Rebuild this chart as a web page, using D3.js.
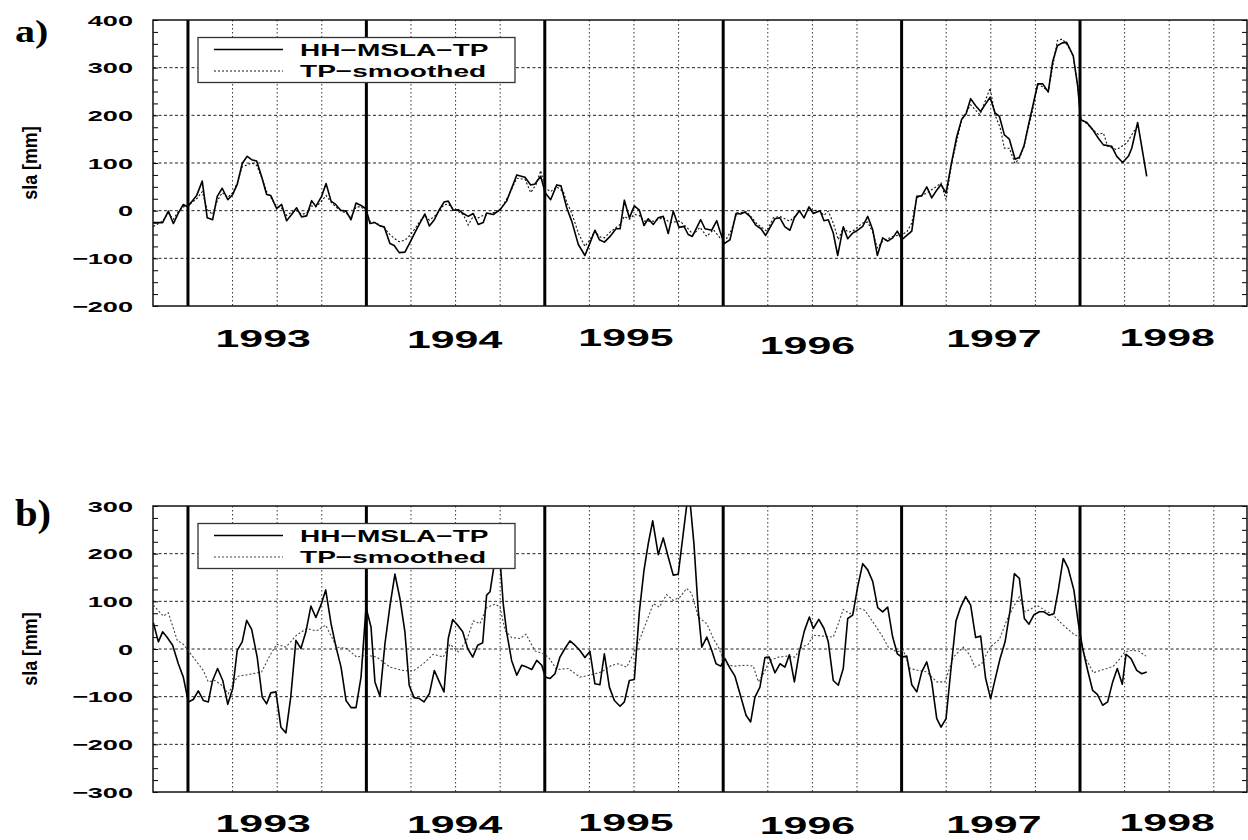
<!DOCTYPE html>
<html>
<head>
<meta charset="utf-8">
<script src="https://cdn.jsdelivr.net/npm/d3@7"></script>
<style>
  html, body { margin: 0; padding: 0; background: #fff; }
  svg { display: block; }
</style>
</head>
<body>
<div id="chart"></div>
<script>
// Sea level anomaly time series, [decimal year, sla in mm]

// panel a) HH-MSLA-TP
const hhA = [
  [1992.806,-25],[1992.858,-25],[1992.890,-1],[1992.918,-27],[1992.946,-5],[1992.974,13],[1992.998,8],
  [1993.049,32],[1993.080,62],[1993.108,-15],[1993.138,-19],[1993.164,30],[1993.192,47],[1993.223,23],
  [1993.251,34],[1993.276,55],[1993.304,99],[1993.332,114],[1993.357,107],[1993.385,104],[1993.413,71],
  [1993.441,34],[1993.464,32],[1993.497,4],[1993.525,13],[1993.553,-21],[1993.581,-8],[1993.609,6],
  [1993.637,-13],[1993.665,-11],[1993.693,21],[1993.717,9],[1993.749,30],[1993.774,57],[1993.802,20],
  [1993.828,13],[1993.856,1],[1993.886,-1],[1993.914,-19],[1993.942,16],[1993.970,11],[1993.998,4],
  [1994.020,-27],[1994.048,-25],[1994.076,-32],[1994.100,-34],[1994.132,-69],[1994.156,-73],[1994.184,-88],
  [1994.216,-87],[1994.244,-67],[1994.272,-46],[1994.300,-26],[1994.328,-7],[1994.353,-32],[1994.381,-19],
  [1994.409,2],[1994.435,18],[1994.459,20],[1994.487,1],[1994.515,2],[1994.543,-6],[1994.571,-12],
  [1994.599,-6],[1994.627,-29],[1994.655,-25],[1994.674,-5],[1994.711,-8],[1994.749,2],[1994.786,20],
  [1994.843,75],[1994.889,70],[1994.921,54],[1994.945,56],[1994.977,72],[1995.003,37],[1995.033,23],
  [1995.067,54],[1995.091,52],[1995.123,6],[1995.151,-22],[1995.188,-71],[1995.225,-94],[1995.253,-68],
  [1995.281,-41],[1995.306,-61],[1995.334,-66],[1995.366,-54],[1995.399,-38],[1995.422,-38],[1995.446,22],
  [1995.474,-15],[1995.502,10],[1995.530,1],[1995.556,-31],[1995.580,-17],[1995.608,-29],[1995.636,-15],
  [1995.664,-12],[1995.692,-48],[1995.720,-1],[1995.752,-35],[1995.780,-33],[1995.804,-50],[1995.827,-54],
  [1995.851,-36],[1995.874,-19],[1995.898,-38],[1995.936,-41],[1995.964,-21],[1995.982,-43],[1996.006,-69],
  [1996.038,-61],[1996.072,-6],[1996.098,-7],[1996.122,-3],[1996.150,-12],[1996.184,-31],[1996.212,-38],
  [1996.238,-52],[1996.266,-33],[1996.290,-17],[1996.318,-15],[1996.346,-34],[1996.374,-41],[1996.399,-15],
  [1996.427,0],[1996.453,-15],[1996.481,8],[1996.505,-6],[1996.543,0],[1996.565,-21],[1996.589,-19],
  [1996.617,-47],[1996.642,-94],[1996.673,-34],[1996.698,-59],[1996.726,-47],[1996.754,-41],[1996.782,-33],
  [1996.810,-12],[1996.838,-40],[1996.864,-94],[1996.894,-57],[1996.922,-64],[1996.950,-57],[1996.976,-43],
  [1997.001,-61],[1997.029,-52],[1997.057,-43],[1997.085,30],[1997.113,31],[1997.141,50],[1997.169,27],
  [1997.197,43],[1997.221,55],[1997.249,37],[1997.281,103],[1997.309,155],[1997.337,192],[1997.361,203],
  [1997.387,235],[1997.415,220],[1997.443,208],[1997.471,224],[1997.496,238],[1997.524,205],[1997.548,198],
  [1997.576,159],[1997.604,150],[1997.636,108],[1997.660,112],[1997.686,136],[1997.710,178],[1997.735,219],
  [1997.763,266],[1997.791,266],[1997.822,249],[1997.847,313],[1997.873,346],[1997.901,352],[1997.925,353],
  [1997.962,325],[1997.987,261],[1998.004,191],[1998.038,185],[1998.071,170],[1998.103,152],[1998.131,138],
  [1998.178,135],[1998.206,114],[1998.239,101],[1998.271,114],[1998.290,131],[1998.323,185],[1998.374,72]
];

// panel a) TP-smoothed
const tpA = [
  [1992.806,-33],[1992.858,-22],[1992.890,-5],[1992.918,-18],[1992.946,-2],[1992.974,8],[1992.998,10],
  [1993.049,25],[1993.080,40],[1993.108,2],[1993.138,-8],[1993.164,20],[1993.192,38],[1993.223,28],
  [1993.251,38],[1993.276,58],[1993.304,92],[1993.332,96],[1993.357,100],[1993.385,95],[1993.413,70],
  [1993.441,40],[1993.464,28],[1993.497,8],[1993.525,5],[1993.553,-10],[1993.581,-3],[1993.609,0],
  [1993.637,-8],[1993.665,-5],[1993.693,10],[1993.717,8],[1993.749,20],[1993.774,32],[1993.802,18],
  [1993.828,8],[1993.856,0],[1993.886,-5],[1993.914,-15],[1993.942,8],[1993.970,8],[1993.998,0],
  [1994.020,-22],[1994.048,-25],[1994.076,-30],[1994.100,-36],[1994.132,-50],[1994.156,-58],[1994.184,-65],
  [1994.216,-62],[1994.244,-52],[1994.272,-38],[1994.300,-22],[1994.328,-10],[1994.353,-20],[1994.381,-12],
  [1994.409,0],[1994.435,12],[1994.459,14],[1994.487,3],[1994.515,-2],[1994.543,-8],[1994.571,-30],
  [1994.599,-12],[1994.627,-15],[1994.655,-10],[1994.674,-8],[1994.749,0],[1994.795,30],[1994.843,68],
  [1994.889,66],[1994.921,38],[1994.951,55],[1994.977,84],[1995.003,47],[1995.033,40],[1995.067,50],
  [1995.104,40],[1995.126,15],[1995.151,-5],[1995.188,-47],[1995.225,-75],[1995.253,-61],[1995.281,-43],
  [1995.309,-55],[1995.334,-57],[1995.366,-45],[1995.422,-29],[1995.446,-12],[1995.474,-18],[1995.502,-8],
  [1995.530,-10],[1995.556,-22],[1995.608,-22],[1995.664,-15],[1995.702,-25],[1995.758,-22],[1995.804,-38],
  [1995.832,-50],[1995.870,-35],[1995.908,-54],[1995.945,-40],[1995.982,-57],[1996.020,-58],[1996.047,-40],
  [1996.076,-5],[1996.132,-2],[1996.188,-27],[1996.244,-43],[1996.281,-15],[1996.318,-12],[1996.374,-22],
  [1996.431,-1],[1996.487,2],[1996.543,-1],[1996.565,-10],[1996.589,-1],[1996.617,-26],[1996.645,-61],
  [1996.673,-36],[1996.701,-45],[1996.726,-43],[1996.782,-26],[1996.810,-24],[1996.838,-45],[1996.864,-78],
  [1996.894,-64],[1996.950,-54],[1997.001,-50],[1997.029,-45],[1997.057,-26],[1997.085,27],[1997.141,37],
  [1997.197,51],[1997.221,58],[1997.249,23],[1997.281,100],[1997.337,191],[1997.387,222],[1997.439,201],
  [1997.496,257],[1997.524,200],[1997.552,175],[1997.576,131],[1997.604,131],[1997.636,99],[1997.660,110],
  [1997.686,134],[1997.735,212],[1997.763,264],[1997.791,260],[1997.822,250],[1997.873,357],[1997.901,360],
  [1997.934,345],[1997.962,323],[1997.987,264],[1998.004,191],[1998.038,183],[1998.071,170],[1998.103,160],
  [1998.131,163],[1998.155,135],[1998.206,128],[1998.262,142],[1998.308,170],[1998.327,178]
];

// panel b) HH-MSLA-TP
const hhB = [
  [1992.806,55],[1992.834,15],[1992.858,36],[1992.884,24],[1992.914,8],[1992.946,-31],[1992.974,-59],
  [1993.002,-111],[1993.030,-106],[1993.058,-88],[1993.086,-108],[1993.114,-111],[1993.138,-66],[1993.166,-41],
  [1993.195,-66],[1993.223,-116],[1993.251,-83],[1993.276,-3],[1993.304,15],[1993.329,60],[1993.357,41],
  [1993.388,-17],[1993.416,-101],[1993.441,-115],[1993.464,-92],[1993.493,-90],[1993.521,-164],[1993.549,-176],
  [1993.576,-101],[1993.605,18],[1993.633,1],[1993.661,36],[1993.689,90],[1993.717,66],[1993.746,93],
  [1993.772,124],[1993.802,53],[1993.830,4],[1993.858,-38],[1993.886,-108],[1993.914,-123],[1993.942,-123],
  [1993.970,-59],[1993.998,87],[1994.026,46],[1994.048,-69],[1994.076,-99],[1994.104,11],[1994.132,90],
  [1994.160,157],[1994.188,106],[1994.216,36],[1994.240,-76],[1994.267,-102],[1994.297,-104],[1994.323,-111],
  [1994.353,-94],[1994.381,-45],[1994.409,-69],[1994.435,-90],[1994.459,22],[1994.484,62],[1994.512,50],
  [1994.540,36],[1994.568,1],[1994.596,-17],[1994.624,8],[1994.652,13],[1994.674,113],[1994.693,120],
  [1994.732,215],[1994.753,168],[1994.767,95],[1994.786,36],[1994.814,-24],[1994.843,-55],[1994.871,-34],
  [1994.899,-38],[1994.927,-43],[1994.955,-24],[1994.983,-34],[1995.003,-59],[1995.029,-62],[1995.057,-52],
  [1995.085,-17],[1995.113,1],[1995.141,17],[1995.169,8],[1995.197,-3],[1995.225,-18],[1995.253,-5],
  [1995.281,-73],[1995.309,-75],[1995.334,-10],[1995.362,-80],[1995.390,-108],[1995.422,-120],[1995.446,-111],
  [1995.474,-66],[1995.502,-64],[1995.530,78],[1995.556,165],[1995.580,221],[1995.605,269],[1995.636,198],
  [1995.664,233],[1995.692,193],[1995.720,155],[1995.748,157],[1995.776,242],[1995.799,312],[1995.814,310],
  [1995.836,221],[1995.860,81],[1995.880,4],[1995.908,25],[1995.936,-3],[1995.960,-31],[1995.986,-36],
  [1996.010,-20],[1996.038,-40],[1996.066,-57],[1996.094,-94],[1996.128,-139],[1996.154,-153],[1996.178,-101],
  [1996.206,-80],[1996.234,-18],[1996.258,-17],[1996.290,-50],[1996.318,-31],[1996.346,-38],[1996.371,-12],
  [1996.399,-69],[1996.427,-6],[1996.455,38],[1996.483,67],[1996.505,43],[1996.536,62],[1996.565,43],
  [1996.589,15],[1996.617,-66],[1996.645,-76],[1996.673,-41],[1996.698,64],[1996.726,71],[1996.754,131],
  [1996.782,179],[1996.810,166],[1996.838,142],[1996.866,87],[1996.894,78],[1996.922,88],[1996.950,25],
  [1996.976,-10],[1997.001,-17],[1997.029,-15],[1997.057,-75],[1997.085,-90],[1997.113,-48],[1997.141,-27],
  [1997.169,-69],[1997.197,-146],[1997.221,-164],[1997.249,-146],[1997.277,-41],[1997.305,59],[1997.331,88],
  [1997.359,110],[1997.387,92],[1997.415,24],[1997.443,27],[1997.471,-62],[1997.499,-104],[1997.527,-59],
  [1997.552,-20],[1997.580,15],[1997.608,81],[1997.632,158],[1997.660,148],[1997.688,64],[1997.714,52],
  [1997.742,72],[1997.772,78],[1997.798,78],[1997.826,71],[1997.854,74],[1997.878,123],[1997.906,190],
  [1997.934,169],[1997.966,123],[1997.991,53],[1998.015,1],[1998.043,-45],[1998.071,-87],[1998.097,-95],
  [1998.127,-118],[1998.155,-111],[1998.183,-69],[1998.209,-41],[1998.237,-74],[1998.258,-11],[1998.286,-20],
  [1998.318,-45],[1998.346,-52],[1998.374,-48]
];

// panel b) TP-smoothed
const tpB = [
  [1992.806,92],[1992.862,69],[1992.890,76],[1992.940,18],[1992.974,10],[1993.021,-13],[1993.086,-45],
  [1993.114,-69],[1993.151,-66],[1993.189,-76],[1993.226,-94],[1993.263,-66],[1993.282,-57],[1993.348,-53],
  [1993.413,-48],[1993.460,-13],[1993.497,10],[1993.549,4],[1993.609,29],[1993.665,43],[1993.721,38],
  [1993.772,50],[1993.834,4],[1993.890,1],[1993.946,-17],[1994.002,-13],[1994.058,-17],[1994.132,-38],
  [1994.207,-45],[1994.263,-46],[1994.319,-31],[1994.375,-11],[1994.431,-17],[1994.469,10],[1994.515,-6],
  [1994.562,18],[1994.599,59],[1994.637,53],[1994.674,87],[1994.721,94],[1994.749,88],[1994.777,39],
  [1994.814,24],[1994.861,22],[1994.895,31],[1994.945,-4],[1994.992,-10],[1995.020,-17],[1995.067,-43],
  [1995.132,-41],[1995.197,-59],[1995.253,-55],[1995.319,-48],[1995.375,-34],[1995.412,-31],[1995.459,-38],
  [1995.496,-11],[1995.534,22],[1995.580,67],[1995.608,95],[1995.642,88],[1995.683,114],[1995.720,102],
  [1995.758,109],[1995.795,127],[1995.823,117],[1995.860,67],[1995.908,53],[1995.945,22],[1995.973,4],
  [1996.010,-31],[1996.057,-36],[1996.132,-34],[1996.169,-36],[1996.197,-69],[1996.225,-52],[1996.262,-24],
  [1996.309,-17],[1996.356,-15],[1996.402,-17],[1996.440,4],[1996.477,10],[1996.505,29],[1996.561,27],
  [1996.617,25],[1996.645,53],[1996.673,83],[1996.711,74],[1996.757,86],[1996.795,81],[1996.851,50],
  [1996.888,29],[1996.925,4],[1996.972,-6],[1997.010,-3],[1997.047,-41],[1997.094,-45],[1997.141,-48],
  [1997.197,-69],[1997.243,-69],[1997.290,-17],[1997.346,4],[1997.383,-13],[1997.411,-38],[1997.449,-31],
  [1997.496,4],[1997.548,20],[1997.589,60],[1997.626,88],[1997.660,109],[1997.692,78],[1997.729,85],
  [1997.757,92],[1997.804,81],[1997.850,71],[1997.906,50],[1997.962,32],[1997.996,25],[1998.028,-17],
  [1998.075,-50],[1998.112,-45],[1998.150,-41],[1998.187,-36],[1998.224,-20],[1998.252,-6],[1998.290,-3],
  [1998.327,-4],[1998.370,-15]
];

const seriesNames = ['HH\u2212MSLA\u2212TP', 'TP\u2212smoothed'];
const yearLabels = ['1993', '1994', '1995', '1996', '1997', '1998'];
const ticksA = [-200, -100, 0, 100, 200, 300, 400];
const ticksB = [-300, -200, -100, 0, 100, 200, 300];
const timeSpan = [1992.804, 1998.936];

// layout
const W = 1248, H = 840;
const left = 153, right = 1247;
const sx = 1.75; // the original figure is stretched horizontally
const sansFont = "'Liberation Sans', Arial, Helvetica, sans-serif";
const serifFont = "'Liberation Serif', 'Times New Roman', serif";

const panels = [
  { tag: 'a)', hh: hhA, tp: tpA, ticks: ticksA, top: 20, bottom: 306,
    tagSize: 32, tagScale: 1.25, tagY: 42, tpColor: '#111',
    yearDy: [41, 42, 40, 48, 41, 40] },
  { tag: 'b)', hh: hhB, tp: tpB, ticks: ticksB, top: 506, bottom: 792,
    tagSize: 37, tagScale: 1.1, tagY: 526, tpColor: '#444',
    yearDy: [40, 41, 39, 42, 41, 39] }
];
const yearNudge = [-14, -1, -8, -5, 3, -2];

const svg = d3.select('#chart').append('svg')
  .attr('width', W).attr('height', H)
  .attr('viewBox', `0 0 ${W} ${H}`);

const x = d3.scaleLinear().domain(timeSpan).range([left, right]);

// stretched text helper
function label(g, txt, px, py, opts) {
  return g.append('text')
    .attr('transform', `translate(${px},${py}) ${opts.rotate ? 'rotate(-90) ' : ''}scale(${opts.sx},1)`)
    .attr('text-anchor', opts.anchor || 'start')
    .attr('font-family', opts.family || sansFont)
    .attr('font-weight', 'bold')
    .attr('font-size', opts.size)
    .attr('fill', '#000')
    .text(txt);
}

panels.forEach((p, pi) => {
  const ext = d3.extent(p.ticks);
  const y = d3.scaleLinear().domain(ext).range([p.bottom, p.top]);
  const g = svg.append('g');
  const clipId = `clip-${pi}`;
  svg.append('defs').append('clipPath').attr('id', clipId)
    .append('rect').attr('x', left).attr('y', p.top)
    .attr('width', right - left).attr('height', p.bottom - p.top);

  // quarter grid lines (dotted)
  const quarters = d3.range(Math.ceil(timeSpan[0] * 4), Math.floor(timeSpan[1] * 4) + 1)
    .map(q => q / 4).filter(t => t % 1 !== 0);
  g.append('g').selectAll('line').data(quarters).join('line')
    .attr('x1', d => x(d)).attr('x2', d => x(d))
    .attr('y1', p.top).attr('y2', p.bottom)
    .attr('stroke', '#333').attr('stroke-width', 1)
    .attr('stroke-dasharray', '1.5,2.5');

  // horizontal grid
  g.append('g').selectAll('line').data(p.ticks.slice(1, -1)).join('line')
    .attr('x1', left).attr('x2', right)
    .attr('y1', d => y(d)).attr('y2', d => y(d))
    .attr('stroke', '#222').attr('stroke-width', 1)
    .attr('stroke-dasharray', '3,2.5');

  // minor ticks, left and right, every 25 mm
  const minor = d3.range(ext[0], ext[1] + 1, 25);
  const leftAxis = d3.axisRight(y).tickValues(minor).tickSize(5).tickFormat('');
  const rightAxis = d3.axisLeft(y).tickValues(minor).tickSize(5).tickFormat('');
  g.append('g').attr('transform', `translate(${left},0)`).call(leftAxis)
    .call(s => s.select('.domain').remove())
    .selectAll('line').attr('stroke', '#000');
  g.append('g').attr('transform', `translate(${right},0)`).call(rightAxis)
    .call(s => s.select('.domain').remove())
    .selectAll('line').attr('stroke', '#000');

  // year boundaries (thick)
  const years = yearLabels.map(Number);
  g.append('g').selectAll('line').data(years).join('line')
    .attr('x1', d => x(d)).attr('x2', d => x(d))
    .attr('y1', p.top).attr('y2', p.bottom)
    .attr('stroke', '#000').attr('stroke-width', 3);

  // frame
  g.append('rect').attr('x', left).attr('y', p.top)
    .attr('width', right - left).attr('height', p.bottom - p.top)
    .attr('fill', 'none').attr('stroke', '#111').attr('stroke-width', 1.5);

  // series
  const line = d3.line().x(d => x(d[0])).y(d => y(d[1]));
  const plot = g.append('g').attr('clip-path', `url(#${clipId})`);
  plot.append('path').datum(p.tp).attr('d', line)
    .attr('fill', 'none').attr('stroke', p.tpColor).attr('stroke-width', 1.1)
    .attr('stroke-dasharray', '2,2');
  plot.append('path').datum(p.hh).attr('d', line)
    .attr('fill', 'none').attr('stroke', '#000').attr('stroke-width', 1.6)
    .attr('stroke-linejoin', 'round');

  // y tick labels
  p.ticks.forEach(v => {
    label(g, v < 0 ? '\u2212' + Math.abs(v) : String(v), 133, y(v) + 5.5,
      { sx, size: 15.5, anchor: 'end' });
  });

  // y title
  label(g, 'sla [mm]', 37, (p.top + p.bottom) / 2, { sx: 0.85, size: 21, anchor: 'middle', rotate: true });

  // panel tag
  label(g, p.tag, 15, p.tagY, { sx: p.tagScale, size: p.tagSize, family: serifFont });

  // year labels
  yearLabels.forEach((yl, i) => {
    label(g, yl, x(+yl + 0.5) + yearNudge[i], p.bottom + p.yearDy[i],
      { sx, size: 24.5, anchor: 'middle' });
  });

  // legend
  const lg = g.append('g').attr('transform', `translate(198,${p.top + 17.5})`);
  lg.append('rect').attr('width', 317).attr('height', 45)
    .attr('fill', '#fff').attr('stroke', '#333').attr('stroke-width', 1.3);
  [{ dash: null, w: 1.4, c: '#000' }, { dash: '2,2', w: 1.1, c: p.tpColor }].forEach((s, i) => {
    const yy = 12 + i * 21.5;
    lg.append('line').attr('x1', 16).attr('x2', 85).attr('y1', yy).attr('y2', yy)
      .attr('stroke', s.c).attr('stroke-width', s.w)
      .attr('stroke-dasharray', s.dash);
    label(lg, seriesNames[i], 102, yy + 6, { sx: 1.65, size: 17 });
  });
});
</script>
</body>
</html>
